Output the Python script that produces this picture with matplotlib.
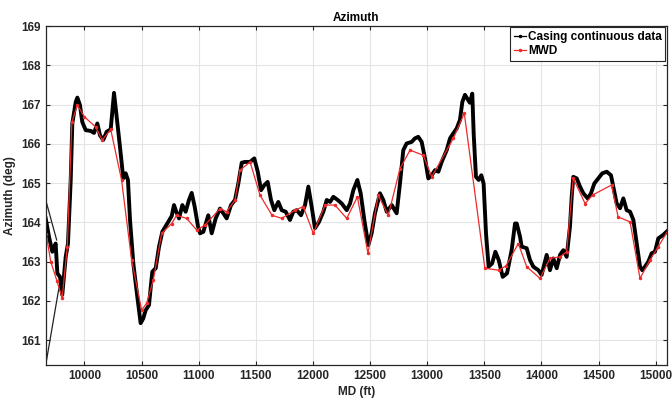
import matplotlib
matplotlib.use("Agg")
import matplotlib.pyplot as plt
from matplotlib.lines import Line2D

# casing continuous data
casing_md = [9661, 9690, 9719, 9748, 9763, 9786, 9806, 9836, 9856, 9880, 9894, 9924,
             9938, 9961, 9981, 10011, 10055, 10084, 10113, 10136, 10165, 10195, 10230,
             10259, 10282, 10311, 10340, 10361, 10381, 10399, 10428, 10463, 10492, 10515,
             10536, 10565, 10594, 10624, 10653, 10682, 10725, 10764, 10784, 10804, 10828,
             10857, 10886, 10915, 10939, 10965, 10994, 11012, 11041, 11084, 11114, 11149,
             11187, 11216, 11245, 11283, 11318, 11347, 11377, 11406, 11450, 11487, 11517,
             11546, 11575, 11604, 11633, 11662, 11697, 11727, 11762, 11799, 11828, 11858,
             11896, 11931, 11960, 11989, 12018, 12053, 12091, 12121, 12150, 12179, 12217,
             12252, 12296, 12325, 12354, 12389, 12418, 12450, 12485, 12514, 12543, 12587,
             12616, 12646, 12690, 12733, 12762, 12791, 12820, 12864, 12893, 12922, 12952,
             12981, 13010, 13040, 13069, 13098, 13127, 13171, 13200, 13229, 13258, 13287,
             13308, 13331, 13373, 13395, 13407, 13427, 13451, 13474, 13494, 13515, 13538,
             13568, 13597, 13626, 13661, 13699, 13740, 13769, 13784, 13813, 13827, 13871,
             13900, 13929, 13973, 14002, 14046, 14075, 14104, 14134, 14163, 14192, 14221,
             14250, 14265, 14279, 14309, 14338, 14367, 14405, 14434, 14463, 14498, 14533,
             14572, 14609, 14629, 14659, 14688, 14717, 14746, 14776, 14805, 14834, 14863,
             14883, 14907, 14936, 14965, 14994, 15023, 15066, 15110]
casing_az = [164.10, 163.63, 163.25, 163.46, 162.70, 162.61, 162.15, 163.12, 163.46, 165.08,
             166.52, 167.07, 167.18, 166.99, 166.56, 166.35, 166.33, 166.28, 166.52, 166.22,
             166.10, 166.31, 166.37, 167.30, 166.69, 165.93, 165.12, 165.25, 165.08, 164.06,
             162.95, 162.10, 161.43, 161.55, 161.76, 161.89, 162.74, 162.83, 163.38, 163.76,
             163.97, 164.16, 164.44, 164.27, 164.10, 164.44, 164.27, 164.57, 164.75, 164.40,
             163.90, 163.72, 163.76, 164.18, 163.72, 164.10, 164.35, 164.23, 164.10, 164.44,
             164.57, 164.99, 165.52, 165.54, 165.54, 165.63, 165.29, 164.82, 164.95, 165.03,
             164.57, 164.31, 164.52, 164.31, 164.27, 164.06, 164.27, 164.31, 164.18, 164.44,
             164.91, 164.40, 163.85, 164.01, 164.27, 164.57, 164.52, 164.65, 164.57, 164.48,
             164.31, 164.48, 164.82, 165.08, 164.74, 164.06, 163.42, 163.72, 164.23, 164.74,
             164.57, 164.27, 164.44, 164.23, 164.99, 165.84, 166.01, 166.05, 166.14, 166.18,
             166.05, 165.63, 165.12, 165.20, 165.33, 165.29, 165.54, 165.84, 166.14, 166.27,
             166.39, 166.61, 167.07, 167.25, 167.05, 167.28, 166.27, 165.16, 165.08, 165.20,
             164.99, 163.72, 162.87, 162.95, 163.25, 163.04, 162.61, 162.70, 163.30, 163.97,
             163.97, 163.63, 163.38, 163.34, 163.04, 162.87, 162.78, 162.66, 163.17, 162.78,
             163.08, 162.83, 163.17, 163.29, 163.12, 163.89, 164.65, 165.16, 165.12, 164.91,
             164.74, 164.61, 164.74, 164.99, 165.12, 165.25, 165.29, 165.20, 164.91, 164.48,
             164.36, 164.61, 164.31, 164.27, 164.06, 163.46, 162.87, 162.78, 162.87, 163.00,
             163.21, 163.25, 163.59, 163.68, 163.80]

# sparse leading segments of the casing record
lead1_md = [9661, 9757]
lead1_az = [164.57, 163.55]
lead2_md = [9661, 9790]
lead2_az = [160.36, 162.55]

# MWD surveys
mwd_md = [9665, 9705, 9760, 9805, 9850, 9890, 9938, 10000, 10098, 10156, 10230, 10325,
          10413, 10501, 10545, 10603, 10676, 10764, 10807, 10895, 10983, 11055, 11187,
          11245, 11318, 11362, 11450, 11537, 11642, 11727, 11843, 11915, 12003, 12106,
          12193, 12296, 12389, 12482, 12572, 12660, 12762, 12850, 12966, 13040, 13229,
          13325, 13505, 13626, 13690, 13798, 13871, 13988, 14075, 14163, 14221, 14279,
          14382, 14450, 14614, 14671, 14776, 14863, 14950, 15023, 15110]
mwd_az = [163.70, 163.00, 162.50, 162.07, 163.38, 166.55, 166.99, 166.69, 166.43, 166.10,
          166.37, 165.08, 163.04, 161.76, 161.94, 162.53, 163.72, 163.97, 164.18, 164.10,
          163.80, 163.93, 164.35, 164.27, 164.57, 165.33, 165.54, 164.69, 164.18, 164.10,
          164.31, 164.40, 163.72, 164.44, 164.44, 164.10, 164.65, 163.21, 164.69, 164.18,
          165.37, 165.84, 165.71, 165.16, 166.14, 166.78, 162.83, 162.78, 162.89, 163.46,
          162.87, 162.57, 163.08, 163.12, 163.25, 165.12, 164.48, 164.70, 164.95, 164.14,
          164.01, 162.57, 163.04, 163.38, 163.80]

plt.rcParams['font.family'] = ['Liberation Sans', 'DejaVu Sans']
plt.rcParams['font.weight'] = 'bold'

fig = plt.figure(figsize=(6.72, 4.03), dpi=100)
ax = fig.add_axes([0.068, 0.094, 0.924, 0.841])

ax.plot(lead1_md, lead1_az, color='#222222', lw=0.9)
ax.plot(lead2_md, lead2_az, color='#222222', lw=0.9)
ax.plot(casing_md, casing_az, color='black', lw=2.8, solid_joinstyle='round')
ax.plot(mwd_md, mwd_az, color='#ee2a2a', lw=0.9, marker='.', markersize=3)

ax.set_xlim(9661, 15096)
ax.set_ylim(160.36, 169)
ax.set_xticks(range(10000, 15001, 500))
ax.set_yticks(range(161, 170))
ax.grid(True, color='#e4e4e4', lw=0.8)
ax.set_axisbelow(True)

gray = '#262626'
for s in ax.spines.values():
    s.set_color(gray)
    s.set_linewidth(0.9)
ax.tick_params(direction='in', length=3, top=True, right=True, colors=gray,
               labelsize=8.5, labelcolor=gray)
ax.set_title('Azimuth', fontsize=8.5, fontweight='bold', color='black', pad=4)
ax.set_xlabel('MD (ft)', fontsize=8.5, fontweight='bold', color=gray, labelpad=3)
ax.set_ylabel('Azimuth (deg)', fontsize=8.5, fontweight='bold', color=gray, labelpad=4)

handles = [Line2D([], [], color='black', lw=0.9, marker='.', markersize=3),
           Line2D([], [], color='#ee2a2a', lw=0.9, marker='.', markersize=3)]
leg = ax.legend(handles, ['Casing continuous data', 'MWD'], loc='upper right',
                fontsize=8.5, handlelength=1.0, handletextpad=0.2, borderpad=0.3,
                labelspacing=0.2, borderaxespad=0.1, fancybox=False, framealpha=1)
leg.get_frame().set_edgecolor(gray)
leg.get_frame().set_linewidth(0.8)

fig.savefig('out.png', dpi=100)
